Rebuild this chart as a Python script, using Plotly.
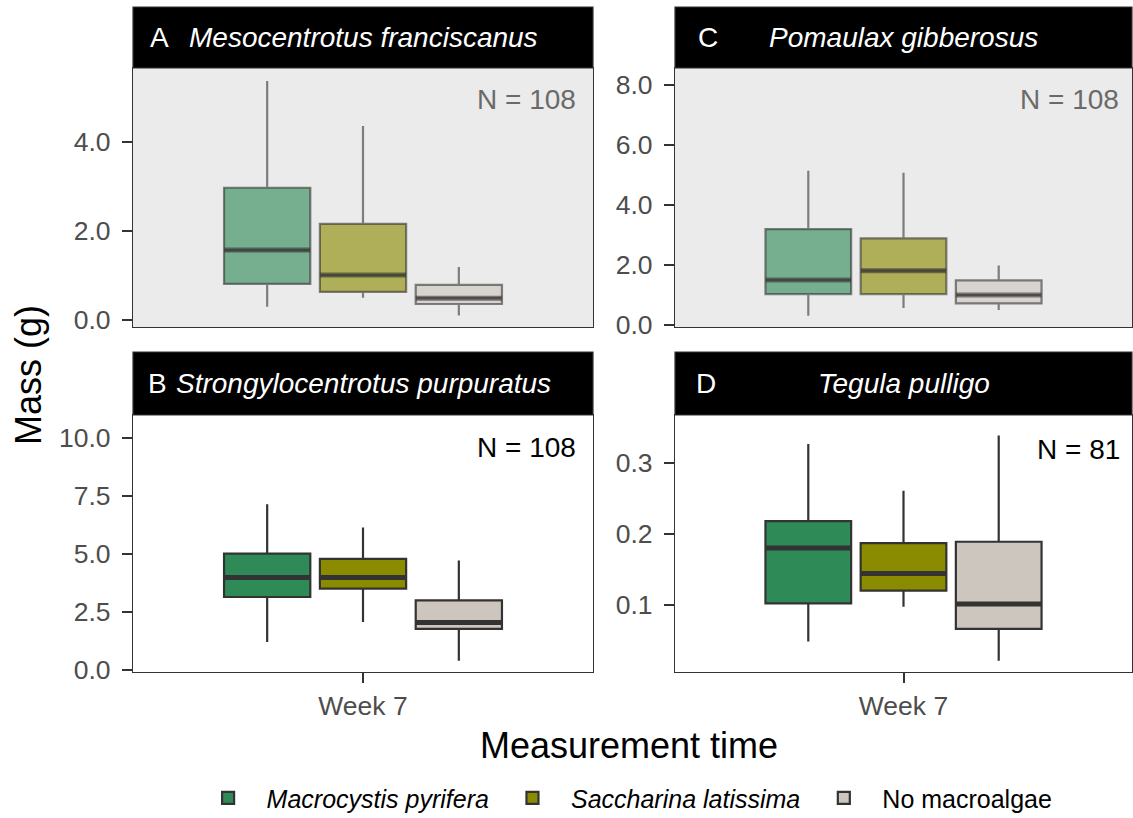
import plotly.graph_objects as go

# ---------------- data ----------------
categories = ["Macrocystis pyrifera", "Saccharina latissima", "No macroalgae"]
legend_labels = ["<i>Macrocystis pyrifera</i>", "<i>Saccharina latissima</i>", "No macroalgae"]
time_label = ["Week 7"]

panel_ids = ["A", "B", "C", "D"]
species = ["Mesocentrotus franciscanus", "Strongylocentrotus purpuratus",
           "Pomaulax gibberosus", "Tegula pulligo"]
sample_sizes = [108, 108, 108, 81]

a_lower = [0.30, 0.50, 0.10]
a_q1 = [0.81, 0.63, 0.36]
a_median = [1.57, 1.01, 0.49]
a_q3 = [2.97, 2.16, 0.79]
a_upper = [5.37, 4.36, 1.19]

b_lower = [1.20, 2.06, 0.39]
b_q1 = [3.14, 3.50, 1.76]
b_median = [3.98, 3.98, 2.04]
b_q3 = [5.01, 4.79, 2.99]
b_upper = [7.15, 6.14, 4.72]

c_lower = [0.31, 0.57, 0.50]
c_q1 = [1.03, 1.03, 0.72]
c_median = [1.50, 1.81, 1.00]
c_q3 = [3.20, 2.89, 1.49]
c_upper = [5.14, 5.08, 1.98]

d_lower = [0.048, 0.097, 0.021]
d_q1 = [0.102, 0.120, 0.066]
d_median = [0.180, 0.144, 0.101]
d_q3 = [0.218, 0.187, 0.189]
d_upper = [0.327, 0.261, 0.339]

stats = {
    "A": (a_lower, a_q1, a_median, a_q3, a_upper),
    "B": (b_lower, b_q1, b_median, b_q3, b_upper),
    "C": (c_lower, c_q1, c_median, c_q3, c_upper),
    "D": (d_lower, d_q1, d_median, d_q3, d_upper),
}

W, H = 1133, 818
FONT = "Liberation Sans, Arial, sans-serif"
colors = ["#2E8B57", "#8B8B00", "#CCC6BE"]
FADE = 0.62


def rgba(hexc, a):
    h = hexc.lstrip("#")
    r, g, b = int(h[0:2], 16), int(h[2:4], 16), int(h[4:6], 16)
    return f"rgba({r},{g},{b},{a})"


geom = {
    "A": (133, 593, 68, 327, 7),
    "C": (675, 1132, 68, 327, 7),
    "B": (133, 593, 415, 672, 352),
    "D": (675, 1132, 415, 672, 352),
}
axis_ids = {"A": "", "C": "2", "B": "3", "D": "4"}
yranges = {"A": [-0.157, 5.66], "C": [-0.067, 8.57], "B": [-0.10, 11.0], "D": [0.005, 0.368]}
ydticks = {"A": 2.0, "C": 2.0, "B": 2.5, "D": 0.1}
faded = {"A": True, "C": True, "B": False, "D": False}
n_pos = {"A": (0.967, 0.880), "C": (0.975, 0.880), "B": (0.967, 0.873), "D": (0.978, 0.864)}
letter_x = {"A": 148, "B": 146, "C": 696, "D": 694}

fig = go.Figure()

for p in ["A", "C", "B", "D"]:
    lo, q1, md, q3, hi = stats[p]
    k = axis_ids[p]
    for i, cat in enumerate(categories):
        if faded[p]:
            fc = rgba(colors[i], FADE)
            lc = "rgba(51,51,51,0.6)"
        else:
            fc = colors[i]
            lc = "#333333"
        fig.add_trace(go.Box(
            x=time_label, q1=[q1[i]], median=[md[i]], q3=[q3[i]],
            lowerfence=[lo[i]], upperfence=[hi[i]],
            name=legend_labels[i], legendgroup=cat, showlegend=(p == "B"),
            offsetgroup=cat, fillcolor=fc, line=dict(color=lc, width=2.2),
            whiskerwidth=0, boxpoints=False, hoverinfo="skip",
            xaxis="x" + k, yaxis="y" + k,
        ))
    for i, cat in enumerate(categories):
        lc = "rgba(51,51,51,0.6)" if faded[p] else "#333333"
        fig.add_trace(go.Box(
            x=time_label, q1=[md[i]], median=[md[i]], q3=[md[i]],
            lowerfence=[md[i]], upperfence=[md[i]],
            name=legend_labels[i], legendgroup=cat, showlegend=False,
            offsetgroup=cat, fillcolor="rgba(0,0,0,0)", line=dict(color=lc, width=5),
            whiskerwidth=0, boxpoints=False, hoverinfo="skip",
            xaxis="x" + k, yaxis="y" + k,
        ))

layout = dict(
    width=W, height=H, margin=dict(l=0, r=0, t=0, b=0, autoexpand=False),
    paper_bgcolor="white", plot_bgcolor="white",
    boxmode="group", boxgap=0.25, boxgroupgap=0.1,
    font=dict(family=FONT, color="black"),
    showlegend=True,
    legend=dict(orientation="h", xref="container", yref="container",
                x=0.5504, xanchor="center", y=0.0244, yanchor="middle",
                font=dict(size=25, color="black", family=FONT), bgcolor="rgba(0,0,0,0)",
                itemwidth=67, tracegroupgap=0),
)

shapes = []
annotations = []
for p in ["A", "C", "B", "D"]:
    x0, x1, yt, yb, st = geom[p]
    k = axis_ids[p]
    bottom = p in ("B", "D")
    layout["xaxis" + k] = dict(
        domain=[x0 / W, x1 / W], anchor="y" + k, type="category", range=[-0.6, 0.6],
        automargin=False,
        showline=True, mirror=True, linecolor="#333333", linewidth=1.2,
        showgrid=False, zeroline=False,
        ticks="outside" if bottom else "", ticklen=10, tickwidth=2, tickcolor="#333333",
        showticklabels=bottom, tickfont=dict(size=26.5, color="#4D4D4D", family=FONT),
    )
    layout["yaxis" + k] = dict(
        domain=[(H - yb) / H, (H - yt) / H], anchor="x" + k, range=yranges[p],
        automargin=False,
        dtick=ydticks[p], tick0=0, tickformat=".1f",
        showline=True, mirror=True, linecolor="#333333", linewidth=1.2,
        showgrid=False, zeroline=False,
        ticks="outside", ticklen=10, tickwidth=2, tickcolor="#333333",
        tickfont=dict(size=26.5, color="#4D4D4D", family=FONT), ticklabelstandoff=6,
    )
    if faded[p]:
        shapes.append(dict(type="rect", xref="paper", yref="paper",
                           x0=x0 / W, x1=x1 / W, y0=(H - yb) / H, y1=(H - yt) / H,
                           fillcolor="#EBEBEB", line=dict(width=0), layer="below"))
    shapes.append(dict(type="rect", xref="paper", yref="paper",
                       x0=x0 / W, x1=x1 / W, y0=(H - yt) / H, y1=(H - st) / H,
                       fillcolor="black", line=dict(color="#333333", width=1.2)))
    idx = panel_ids.index(p)
    ymid = (H - (yt + st) / 2) / H
    annotations.append(dict(xref="paper", yref="paper", x=(x0 + x1) / 2 / W, y=ymid,
                            text="<i>" + species[idx] + "</i>", showarrow=False,
                            xanchor="center", yanchor="middle",
                            font=dict(size=28, color="white", family=FONT)))
    annotations.append(dict(xref="paper", yref="paper", x=letter_x[p] / W, y=ymid,
                            text=p, showarrow=False, xanchor="left", yanchor="middle",
                            font=dict(size=28, color="white", family=FONT)))
    nx, ny = n_pos[p]
    annotations.append(dict(xref="x" + k + " domain", yref="y" + k + " domain", x=nx, y=ny,
                            text=f"N = {sample_sizes[idx]}", showarrow=False,
                            xanchor="right", yanchor="middle",
                            font=dict(size=28, color="#6A6A6A" if faded[p] else "black",
                                      family=FONT)))

annotations.append(dict(xref="paper", yref="paper", x=629 / W, y=(H - 745) / H,
                        text="Measurement time", showarrow=False, xanchor="center",
                        yanchor="middle", font=dict(size=36, color="black", family=FONT)))
annotations.append(dict(xref="paper", yref="paper", x=28 / W, y=(H - 375) / H,
                        text="Mass (g)", showarrow=False, textangle=-90, xanchor="center",
                        yanchor="middle", font=dict(size=36, color="black", family=FONT)))

layout["shapes"] = shapes
layout["annotations"] = annotations
fig.update_layout(**layout)

fig.write_html("out.html", config={"displayModeBar": False},
               post_script="document.body.style.margin='0';document.body.style.overflow='hidden';")
